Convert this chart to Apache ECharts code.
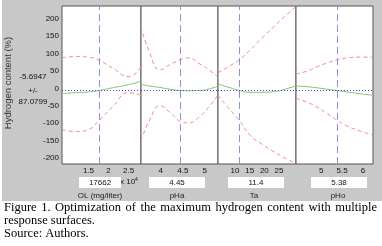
<!DOCTYPE html>
<html><head><meta charset="utf-8">
<script src="https://cdn.jsdelivr.net/npm/echarts@6/dist/echarts.min.js"></script>
<style>html,body{margin:0;padding:0;background:#fff}#c{width:382px;height:246px}</style>
</head><body><div id="c"></div>
<script>
// ---- data ----
const yTicks = [-200, -150, -100, -50, 0, 50, 100, 150, 200];
const yRange = [-217, 237];
const predictedValue = -5.6947;
const predictedPM = '87.0799';
const factorNames = ['OL (mg/liter)', 'pHa', 'Ta', 'pHo'];
const currentValues = [1.7662, 4.45, 11.4, 5.38];
const currentLabels = ['17662', '4.45', '11.4', '5.38'];
const xTicks = [[1.5, 2, 2.5], [4, 4.5, 5], [10, 15, 20, 25], [5, 5.5, 6]];
const xRanges = [[0.84, 2.81], [3.55, 5.3], [4.2, 30.8], [4.4, 6.24]];
const captionLines = ['Figure 1. Optimization of the maximum hydrogen content with multiple',
  'response surfaces.', 'Source: Authors.'];

const olX     = [0.84, 1.2, 1.5, 1.7662, 2.1, 2.5, 2.81];
const olPred  = [-15, -12, -10, -5.7, 2, 11, 21];
const olUpper = [88, 92, 90, 81, 59, 34, 62];
const olLower = [-118, -124, -118, -92, -53, -12, -20];

const phaX     = [3.55, 3.75, 3.98, 4.2, 4.45, 4.62, 4.89, 5.11, 5.3];
const phaPred  = [12, 7, 3, -2, -5.7, -6.5, -6, -1, 7];
const phaUpper = [177, 102, 53, 68, 83, 88, 70, 52, 33];
const phaLower = [-150, -90, -50, -68, -95, -99, -80, -50, -19];

const taX     = [4.2, 7.6, 11.4, 15.1, 19.2, 23.3, 27.1, 30.8];
const taPred  = [13, 4, -5.7, -11, -11, -9, -2, 8];
const taUpper = [45, 62, 82, 110, 145, 178, 208, 236];
const taLower = [-19, -55, -91, -134, -160, -182, -200, -215];

const phoX     = [4.4, 4.67, 4.9, 5.14, 5.38, 5.62, 5.93, 6.24];
const phoPred  = [7, 5, 2, -2, -5.7, -10, -15, -20];
const phoUpper = [42, 50, 62, 73, 82, 88, 90, 90];
const phoLower = [-28, -40, -53, -72, -91, -108, -122, -134];

const panels = [
  [olX, olPred, olUpper, olLower],
  [phaX, phaPred, phaUpper, phaLower],
  [taX, taPred, taUpper, taLower],
  [phoX, phoPred, phoUpper, phoLower]
];

// ---- layout ----
const gLeft = [62, 141, 218, 296];
const gWidth = [79, 77, 78, 77];
const gTop = 6, gHeight = 158;
const FONT = 'Liberation Sans, Arial, sans-serif';
const SERIF = '12.5px Liberation Serif, Times New Roman, serif';

const chart = echarts.init(document.getElementById('c'), null, {renderer: 'canvas'});
const zip = (xs, ys) => xs.map((x, i) => [x, ys[i]]);

const grid = [], xAxis = [], yAxis = [], series = [];
panels.forEach((p, i) => {
  grid.push({left: gLeft[i], top: gTop, width: gWidth[i], height: gHeight,
    show: true, backgroundColor: '#fff', borderColor: '#555', borderWidth: 1, z: 1});
  const [mn, mx] = xRanges[i];
  xAxis.push({type: 'value', gridIndex: i, min: mn, max: mx, position: 'bottom',
    axisLine: {show: false}, splitLine: {show: false},
    axisTick: {show: true, inside: true, length: 3, lineStyle: {color: '#555'}, customValues: xTicks[i]},
    axisLabel: {show: true, customValues: xTicks[i], fontSize: 8, color: '#111', fontFamily: FONT, margin: 3,
      formatter: v => String(v)}});
  xAxis.push({type: 'value', gridIndex: i, min: mn, max: mx, position: 'top',
    axisLine: {show: false}, splitLine: {show: false}, axisLabel: {show: false},
    axisTick: {show: true, inside: true, length: 3, lineStyle: {color: '#555'}, customValues: xTicks[i]}});
  yAxis.push({type: 'value', gridIndex: i, min: yRange[0], max: yRange[1], position: 'left',
    axisLine: {show: false}, splitLine: {show: false},
    axisTick: {show: true, inside: true, length: 3, lineStyle: {color: '#555'}, customValues: yTicks},
    axisLabel: {show: i === 0, customValues: yTicks, fontSize: 8, color: '#111', fontFamily: FONT, margin: 3}});
  yAxis.push({type: 'value', gridIndex: i, min: yRange[0], max: yRange[1], position: 'right',
    axisLine: {show: false}, splitLine: {show: false}, axisLabel: {show: false},
    axisTick: {show: true, inside: true, length: 3, lineStyle: {color: '#555'}, customValues: yTicks}});
  const xi = i * 2, yi = i * 2;
  const [xs, pred, up, lo] = p;
  series.push({type: 'line', xAxisIndex: xi, yAxisIndex: yi, data: zip(xs, up), smooth: 0.5,
    symbol: 'none', lineStyle: {color: '#f58a8a', width: 1, type: [4, 3]}, z: 3});
  series.push({type: 'line', xAxisIndex: xi, yAxisIndex: yi, data: zip(xs, lo), smooth: 0.5,
    symbol: 'none', lineStyle: {color: '#f58a8a', width: 1, type: [4, 3]}, z: 3});
  series.push({type: 'line', xAxisIndex: xi, yAxisIndex: yi, data: zip(xs, pred), smooth: 0.5,
    symbol: 'none', lineStyle: {color: '#86c46a', width: 1}, z: 4,
    markLine: {silent: true, symbol: 'none', label: {show: false}, animation: false,
      data: [
        {xAxis: currentValues[i], lineStyle: {color: '#8f8fd6', width: 1, type: [7, 4]}},
        {yAxis: predictedValue, lineStyle: {color: '#4a4ae0', width: 1, type: [1, 2]}}
      ]}});
});

const graphic = [
  {type: 'rect', shape: {x: 2, y: 0, width: 380, height: 201}, style: {fill: '#c8c8c8'}, z: -10, silent: true},
  {type: 'text', x: 8, y: 83, rotation: Math.PI / 2, style: {text: 'Hydrogen content (%)', font: '9.5px ' + FONT,
    fill: '#333', align: 'center', verticalAlign: 'middle'}},
  {type: 'text', x: 33, y: 77, style: {text: String(predictedValue), font: '8px ' + FONT, fill: '#111', align: 'center', verticalAlign: 'middle'}},
  {type: 'text', x: 33, y: 91, style: {text: '+/-', font: '8px ' + FONT, fill: '#111', align: 'center', verticalAlign: 'middle'}},
  {type: 'text', x: 33, y: 102, style: {text: predictedPM, font: '8px ' + FONT, fill: '#111', align: 'center', verticalAlign: 'middle'}},
  {type: 'text', x: 120, y: 182, style: {rich: {a: {font: '8px ' + FONT, fill: '#111'}, s: {font: '5px ' + FONT, fill: '#111', verticalAlign: 'top', padding: [0,0,5,0]}},
    text: '{a|x 10}{s|4}', verticalAlign: 'middle'}}
];

// justified first caption line
const ctx = document.createElement('canvas').getContext('2d');
ctx.font = SERIF;
const words = captionLines[0].split(' ');
const wW = words.map(w => ctx.measureText(w).width);
const totalW = wW.reduce((a, b) => a + b, 0);
const x0 = 4, x1 = 377;
const gap = (x1 - x0 - totalW) / (words.length - 1);
let cx = x0;
words.forEach((w, k) => {
  graphic.push({type: 'text', x: cx, y: 208, style: {text: w, font: SERIF, fill: '#000', verticalAlign: 'middle'}});
  cx += wW[k] + gap;
});
graphic.push({type: 'text', x: 4, y: 221, style: {text: captionLines[1], font: SERIF, fill: '#000', verticalAlign: 'middle'}});
graphic.push({type: 'text', x: 4, y: 234, style: {text: captionLines[2], font: SERIF, fill: '#000', verticalAlign: 'middle'}});

const boxX = [79, 149, 228, 311];
const boxW = [42, 56, 56, 56];
const labelX = [100, 177, 254, 338];
for (let i = 0; i < 4; i++) {
  graphic.push({type: 'rect', shape: {x: boxX[i], y: 177, width: boxW[i], height: 11}, style: {fill: '#fff'}, z: 1});
  graphic.push({type: 'text', x: boxX[i] + boxW[i] / 2, y: 182.5, z: 2, style: {text: currentLabels[i], font: '8px ' + FONT,
    fill: '#111', align: 'center', verticalAlign: 'middle'}});
  graphic.push({type: 'text', x: labelX[i], y: 196, z: 2, style: {text: factorNames[i], font: '8px ' + FONT,
    fill: '#222', align: 'center', verticalAlign: 'middle'}});
}

chart.setOption({animation: false, backgroundColor: '#fff', grid, xAxis, yAxis, series, graphic});
</script></body></html>
